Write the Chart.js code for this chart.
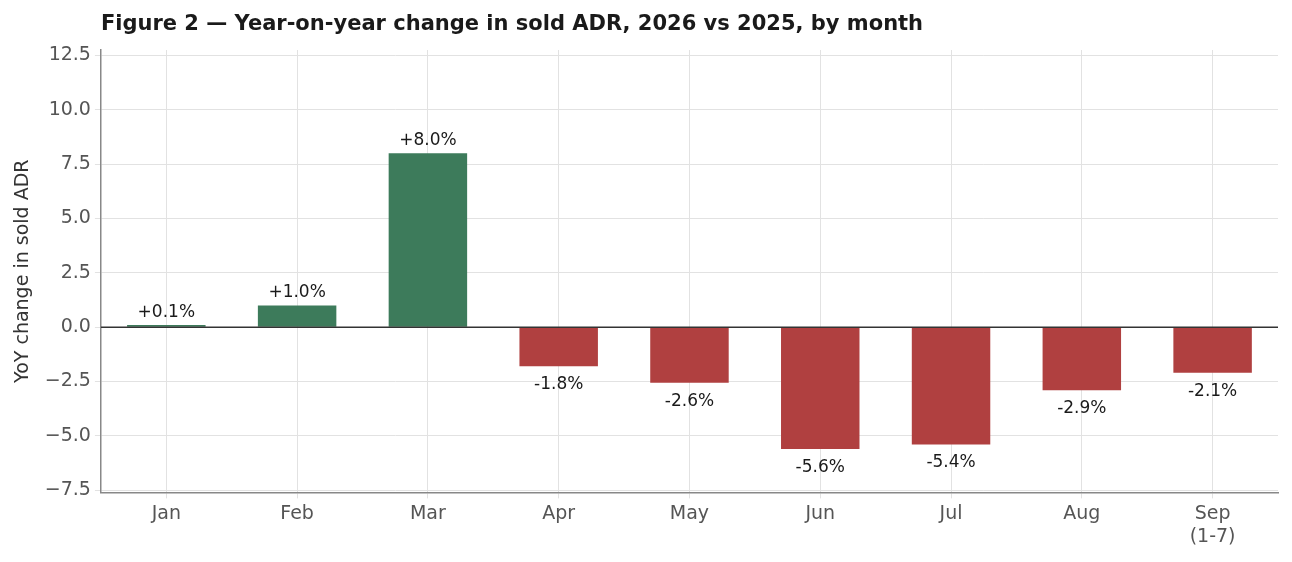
<!DOCTYPE html>
<html>
<head>
<meta charset="utf-8">
<script src="https://cdn.jsdelivr.net/npm/chart.js@4"></script>
<style>
  html, body { margin: 0; padding: 0; background: #fff; }
  #wrap { width: 1292px; height: 562px; position: relative; }
</style>
</head>
<body>
<div id="wrap"><canvas id="c"></canvas></div>
<script>
const months = ['Jan', 'Feb', 'Mar', 'Apr', 'May', 'Jun', 'Jul', 'Aug', ['Sep', '(1-7)']];
const yoyChange = [0.1, 1.0, 8.0, -1.8, -2.56, -5.6, -5.4, -2.9, -2.1];
const yTicks = [-7.5, -5.0, -2.5, 0.0, 2.5, 5.0, 7.5, 10.0, 12.5];

const green = '#3d7b5b';
const red = '#b04040';

// value labels above / below each bar, plus the zero line
const barLabels = {
    id: 'barLabels',
    afterDatasetsDraw(chart) {
        const ctx = chart.ctx;
        const meta = chart.getDatasetMeta(0);
        const y0 = chart.scales.y.getPixelForValue(0);
        ctx.save();
        ctx.strokeStyle = '#333';
        ctx.lineWidth = 1.5;
        ctx.beginPath();
        ctx.moveTo(chart.chartArea.left, y0);
        ctx.lineTo(chart.chartArea.right, y0);
        ctx.stroke();
        ctx.font = '17px "DejaVu Sans"';
        ctx.fillStyle = '#1a1a1a';
        ctx.textAlign = 'center';
        meta.data.forEach((bar, i) => {
            const v = yoyChange[i];
            const txt = (v >= 0 ? '+' : '') + v.toFixed(1) + '%';
            if (v >= 0) {
                ctx.textBaseline = 'bottom';
                ctx.fillText(txt, bar.x, bar.y - 4);
            } else {
                ctx.textBaseline = 'top';
                ctx.fillText(txt, bar.x, bar.y + 10);
            }
        });
        ctx.font = 'bold 21px "DejaVu Sans"';
        ctx.textAlign = 'left';
        ctx.textBaseline = 'middle';
        ctx.fillText('Figure 2 \u2014 Year-on-year change in sold ADR, 2026 vs 2025, by month', chart.chartArea.left, 25);
        ctx.restore();
    }
};

new Chart(document.getElementById('c'), {
    type: 'bar',
    data: {
        labels: months,
        datasets: [{
            data: yoyChange,
            backgroundColor: yoyChange.map(v => v >= 0 ? green : red),
            barPercentage: 0.6,
            categoryPercentage: 1.0
        }]
    },
    options: {
        responsive: true,
        maintainAspectRatio: false,
        animation: false,
        layout: { padding: { top: 50, right: 14, bottom: 10, left: 8 } },
        plugins: { legend: { display: false }, tooltip: { enabled: false } },
        scales: {
            x: {
                z: 1,
                grid: { offset: false, color: '#e2e2e2', drawTicks: true, tickLength: 6 },
                border: { color: '#888', width: 1.5 },
                ticks: { color: '#555', font: { family: 'DejaVu Sans', size: 19 }, padding: 4 }
            },
            y: {
                z: 1,
                min: -7.6,
                max: 12.75,
                afterBuildTicks: axis => { axis.ticks = yTicks.map(v => ({ value: v })); },
                grid: { color: '#e2e2e2', tickLength: 6 },
                border: { color: '#888', width: 1.5 },
                ticks: {
                    color: '#555',
                    font: { family: 'DejaVu Sans', size: 19 },
                    padding: 4,
                    callback: v => (v < 0 ? '\u2212' : '') + Math.abs(v).toFixed(1)
                },
                title: {
                    display: true,
                    text: 'YoY change in sold ADR',
                    color: '#333',
                    font: { family: 'DejaVu Sans', size: 19 },
                    padding: { bottom: 6 }
                }
            }
        }
    },
    plugins: [barLabels]
});
</script>
</body>
</html>
